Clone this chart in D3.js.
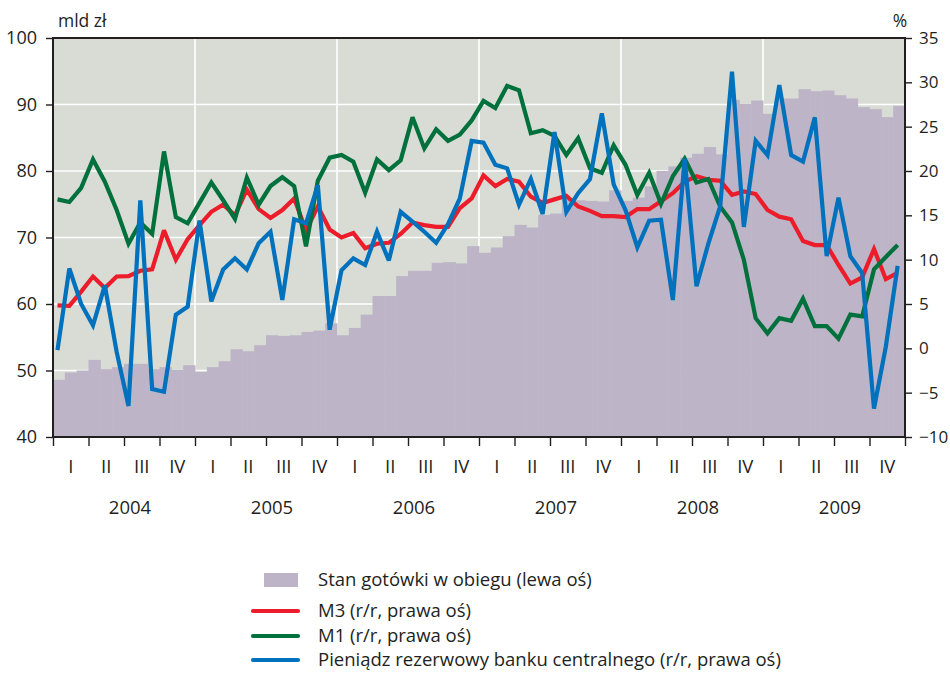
<!DOCTYPE html>
<html>
<head>
<meta charset="utf-8">
<script src="https://cdn.jsdelivr.net/npm/d3@7"></script>
<style>
  html, body { margin: 0; padding: 0; background: #ffffff; }
  svg { display: block; font-family: "Open Sans", "Noto Sans", sans-serif; }
  text { fill: #231f20; }
</style>
</head>
<body>
<svg id="chart" width="950" height="674"></svg>
<script>
// Years and quarters shown on the time axis
const years = ["2004", "2005", "2006", "2007", "2008", "2009"];
const quarters = ["I", "II", "III", "IV"];

// Currency in circulation, bn PLN (left axis), monthly
const cash = [
  48.6, 49.7, 50.0, 51.6, 50.2, 50.5, 51.0, 51.0, 50.2, 50.5, 50.1, 50.8,
  49.8, 50.5, 51.4, 53.2, 52.9, 53.8, 55.3, 55.2, 55.3, 55.8, 56.0, 57.1,
  55.3, 56.4, 58.4, 61.2, 61.2, 64.2, 65.0, 65.0, 66.2, 66.3, 66.1, 68.7,
  67.7, 68.5, 70.2, 71.9, 71.5, 73.4, 73.6, 75.7, 75.6, 75.5, 75.4, 77.1,
  75.5, 76.0, 77.7, 80.0, 80.7, 82.0, 82.6, 83.6, 82.5, 90.7, 90.1, 90.6,
  88.6, 90.9, 90.9, 92.3, 92.0, 92.1, 91.4, 90.9, 89.6, 89.3, 88.1, 89.8
];

// M3, y/y %, right axis
const m3 = [
  4.85, 4.8, 6.4, 8.1, 6.8, 8.1, 8.15, 8.75, 8.9, 13.3, 10.0, 12.3,
  13.9, 15.4, 16.2, 15.0, 17.9, 15.7, 14.7, 15.6, 16.9, 13.3, 16.0, 13.4,
  12.5, 13.0, 11.3, 11.8, 11.9, 12.9, 14.2, 13.9, 13.7, 13.7, 15.8, 16.9,
  19.5, 18.3, 19.1, 18.8, 17.1, 16.4, 16.8, 17.2, 16.0, 15.5, 14.9, 14.9,
  14.8, 15.7, 15.7, 16.6, 17.5, 18.8, 19.4, 19.0, 18.9, 17.3, 17.7, 17.4,
  15.6, 14.85, 14.55, 12.1, 11.65, 11.65, 9.4, 7.3, 8.0, 11.2, 7.8, 8.5
];

// M1, y/y %, right axis
const m1 = [
  16.8, 16.5, 18.1, 21.3, 18.8, 15.6, 11.8, 14.2, 12.9, 22.2, 14.8, 14.1,
  16.4, 18.7, 16.7, 14.6, 19.25, 16.2, 18.3, 19.3, 18.3, 11.5, 18.9, 21.5,
  21.8, 21.05, 17.55, 21.3, 20.1, 21.2, 26.05, 22.55, 24.7, 23.4, 24.1, 25.7,
  27.9, 27.1, 29.6, 29.1, 24.25, 24.6, 23.95, 21.8, 23.7, 20.3, 19.8, 22.9,
  20.7, 17.3, 19.8, 16.3, 19.4, 21.4, 18.7, 19.1, 16.0, 14.2, 10.0, 3.4,
  1.7, 3.4, 3.1, 5.6, 2.5, 2.5, 1.1, 3.8, 3.6, 8.9, 10.3, 11.65
];

// Reserve money of the central bank, y/y %, right axis
const reserve = [
  -0.2, 9.0, 5.0, 2.6, 7.1, -0.4, -6.5, 16.7, -4.6, -4.9, 3.8, 4.7,
  14.4, 5.3, 8.9, 10.15, 8.9, 11.85, 13.15, 5.45, 14.55, 14.1, 18.4, 2.1,
  8.8, 10.15, 9.4, 13.15, 9.9, 15.4, 14.3, 13.15, 11.9, 14.0, 16.9, 23.4,
  23.2, 20.7, 20.3, 16.2, 19.1, 15.15, 24.4, 15.4, 17.5, 19.1, 26.5, 18.5,
  15.6, 11.4, 14.4, 14.5, 5.45, 21.4, 7.0, 11.8, 16.0, 31.2, 13.7, 23.4,
  21.8, 29.7, 21.8, 21.05, 26.05, 10.4, 17.0, 10.4, 8.5, -6.8, 0.2, 9.3
];

// Axis ticks
const leftTicks = [40, 50, 60, 70, 80, 90, 100];
const rightTicks = [-10, -5, 0, 5, 10, 15, 20, 25, 30, 35];

// Legend entries
const legendLabels = [
  "Stan gotówki w obiegu (lewa oś)",
  "M3 (r/r, prawa oś)",
  "M1 (r/r, prawa oś)",
  "Pieniądz rezerwowy banku centralnego (r/r, prawa oś)"
];

const colors = {
  plotBg: "#d8dcd5",
  cash: "#bdb5c7",
  m3: "#ed1c2a",
  m1: "#00703c",
  reserve: "#0071bc",
  axis: "#231f20"
};

const svg = d3.select("#chart");
const L = 53, R = 905, T = 38, B = 437;

const months = years.flatMap(y => d3.range(1, 13).map(m => `${y}-${m}`));
const quarterKeys = years.flatMap(y => quarters.map(q => `${y}-${q}`));

const x = d3.scaleBand().domain(months).range([L, R]).padding(0);
const xq = d3.scaleBand().domain(quarterKeys).range([L, R]).padding(0);
const xy = d3.scaleBand().domain(years).range([L, R]).padding(0);
const xTicks = d3.scaleLinear().domain([0, quarterKeys.length]).range([L, R]);
const yL = d3.scaleLinear().domain([40, 100]).range([B, T]);
const yR = d3.scaleLinear().domain([-10, 35]).range([B, T]);

// points of the lines sit a little right of each month's left edge
const xp = (i) => x(months[i]) + x.bandwidth() * 0.38;

// plot background
svg.append("rect")
  .attr("x", L).attr("y", T).attr("width", R - L).attr("height", B - T)
  .attr("fill", colors.plotBg);

// white grid: horizontal at left-axis ticks, vertical at year boundaries
const grid = svg.append("g").attr("stroke", "#ffffff").attr("stroke-width", 1.6);
grid.selectAll("line.h").data(leftTicks.filter(v => v > 40 && v < 100)).join("line")
  .attr("class", "h")
  .attr("x1", L).attr("x2", R)
  .attr("y1", d => yL(d)).attr("y2", d => yL(d));
grid.selectAll("line.v").data(years.slice(1)).join("line")
  .attr("class", "v")
  .attr("x1", d => xy(d)).attr("x2", d => xy(d))
  .attr("y1", T).attr("y2", B);

// currency in circulation as stepped monthly bars
svg.append("g").selectAll("rect").data(cash).join("rect")
  .attr("x", (d, i) => x(months[i]))
  .attr("width", x.bandwidth() + 0.5)
  .attr("y", d => yL(d))
  .attr("height", d => yL(40) - yL(d))
  .attr("fill", colors.cash);

// growth-rate lines on the right axis
const line = d3.line().x((d, i) => xp(i)).y(d => yR(d));
[[m3, colors.m3], [m1, colors.m1], [reserve, colors.reserve]].forEach(([data, c]) => {
  svg.append("path")
    .datum(data)
    .attr("d", line)
    .attr("fill", "none")
    .attr("stroke", c)
    .attr("stroke-width", 4.2)
    .attr("stroke-linejoin", "miter")
    .attr("stroke-miterlimit", 3)
    .attr("stroke-linecap", "butt");
});

// frame
svg.append("line").attr("x1", L - 1).attr("x2", R + 1).attr("y1", T).attr("y2", T)
  .attr("stroke", colors.axis).attr("stroke-width", 2);

// left axis
const axL = svg.append("g").attr("transform", `translate(${L},0)`)
  .call(d3.axisLeft(yL).tickValues(leftTicks).tickSize(7).tickPadding(9).tickFormat(d3.format("d")));
// right axis
const axR = svg.append("g").attr("transform", `translate(${R},0)`)
  .call(d3.axisRight(yR).tickValues(rightTicks).tickSize(7).tickPadding(7).tickFormat(d3.format("d")));
// bottom axis with quarter ticks
const axB = svg.append("g").attr("transform", `translate(0,${B})`)
  .call(d3.axisBottom(xTicks).tickValues(d3.range(quarterKeys.length + 1)).tickSize(9).tickFormat(""));

[axL, axR, axB].forEach(g => {
  g.select(".domain").attr("stroke", colors.axis).attr("stroke-width", 2);
  g.selectAll(".tick line").attr("stroke", colors.axis).attr("stroke-width", 1.4);
  g.selectAll(".tick text")
    .attr("font-size", 18)
    .attr("font-family", "'Open Sans', sans-serif")
    .attr("fill", colors.axis);
});
axR.selectAll(".tick text").attr("font-size", 17);
axB.select(".domain").attr("d", `M${L - 1},0H${R + 1}`);
axL.select(".domain").attr("d", `M0,${T}V${B + 1}`);
axR.select(".domain").attr("d", `M0,${T}V${B + 1}`);

// unit labels
svg.append("text").attr("x", 58).attr("y", 27).attr("font-size", 17.5).text("mld zł");
svg.append("text").attr("x", 900).attr("y", 27).attr("font-size", 17.5)
  .attr("text-anchor", "middle").text("%");

// quarter labels
svg.append("g").selectAll("text").data(quarterKeys).join("text")
  .attr("x", d => xq(d) + xq.bandwidth() / 2)
  .attr("y", 467)
  .attr("dy", "0.35em")
  .attr("text-anchor", "middle")
  .attr("font-size", 18.5)
  .text(d => d.split("-")[1]);

// year labels
svg.append("g").selectAll("text").data(years).join("text")
  .attr("x", d => xy(d) + xy.bandwidth() / 2 + 6)
  .attr("y", 508)
  .attr("dy", "0.35em")
  .attr("text-anchor", "middle")
  .attr("font-size", 18.5)
  .text(d => d);

// legend
const lg = svg.append("g");
const rowsY = [580, 611, 636, 660];
lg.append("rect").attr("x", 264).attr("y", rowsY[0] - 7).attr("width", 34).attr("height", 14)
  .attr("fill", colors.cash);
[colors.m3, colors.m1, colors.reserve].forEach((c, i) => {
  lg.append("line")
    .attr("x1", 253).attr("x2", 298)
    .attr("y1", rowsY[i + 1]).attr("y2", rowsY[i + 1])
    .attr("stroke", c).attr("stroke-width", 4.2).attr("stroke-linecap", "round");
});
lg.selectAll("text").data(legendLabels).join("text")
  .attr("x", 318)
  .attr("y", (d, i) => rowsY[i])
  .attr("dy", "0.35em")
  .attr("font-size", 18.5)
  .text(d => d);
</script>
</body>
</html>
